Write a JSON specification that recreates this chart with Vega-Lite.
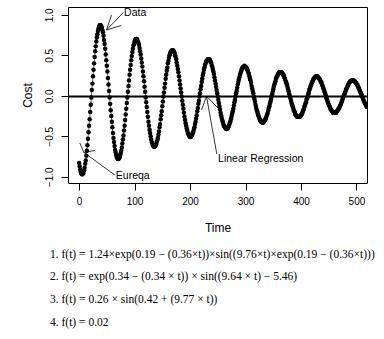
{
"$schema":"https://vega.github.io/schema/vega-lite/v6.json",
"width":299,"height":176,
"autosize":{"type":"none"},
"padding":{"left":68,"top":7,"right":17,"bottom":156},
"background":"white",
"config":{"view":{"stroke":"black","strokeWidth":1},"font":"Liberation Sans"},
"title":{"text":["1.  f(t) = 1.24×exp(0.19 − (0.36×t))×sin((9.76×t)×exp(0.19 − (0.36×t)))","2.  f(t) = exp(0.34 − (0.34 × t)) × sin((9.64 × t) − 5.46)","3.  f(t) = 0.26 × sin(0.42 + (9.77 × t))","4.  f(t) = 0.02"],"orient":"bottom","anchor":"start","frame":"group","font":"Liberation Serif","fontSize":11.5,"fontWeight":"normal","color":"black","lineHeight":22.8,"dx":-18,"offset":15.5,"baseline":"top"},
"datasets":{
"d":[
{"t":0,"c":-0.83},{"t":1,"c":-0.87},{"t":2,"c":-0.91},{"t":3,"c":-0.94},{"t":4,"c":-0.96},{"t":5,"c":-0.97},
{"t":6,"c":-0.97},{"t":7,"c":-0.96},{"t":8,"c":-0.95},{"t":9,"c":-0.92},{"t":10,"c":-0.89},{"t":11,"c":-0.84},{"t":12,"c":-0.80},{"t":13,"c":-0.74},{"t":14,"c":-0.68},{"t":15,"c":-0.61},{"t":16,"c":-0.53},{"t":17,"c":-0.45},{"t":18,"c":-0.37},{"t":19,"c":-0.29},{"t":20,"c":-0.20},{"t":21,"c":-0.11},{"t":22,"c":-0.02},{"t":23,"c":0.07},{"t":24,"c":0.15},{"t":25,"c":0.24},{"t":26,"c":0.32},{"t":27,"c":0.40},{"t":28,"c":0.48},{"t":29,"c":0.55},{"t":30,"c":0.61},{"t":31,"c":0.67},{"t":32,"c":0.72},{"t":33,"c":0.76},{"t":34,"c":0.80},{"t":35,"c":0.83},{"t":36,"c":0.85},{"t":37,"c":0.87},{"t":38,"c":0.87},{"t":39,"c":0.87},{"t":40,"c":0.86},{"t":41,"c":0.84},{"t":42,"c":0.81},{"t":43,"c":0.78},{"t":44,"c":0.74},{"t":45,"c":0.69},{"t":46,"c":0.64},{"t":47,"c":0.58},{"t":48,"c":0.51},{"t":49,"c":0.44},{"t":50,"c":0.37},{"t":51,"c":0.30},{"t":52,"c":0.22},{"t":53,"c":0.14},{"t":54,"c":0.06},{"t":55,"c":-0.02},{"t":56,"c":-0.10},{"t":57,"c":-0.18},{"t":58,"c":-0.25},{"t":59,"c":-0.32},{"t":60,"c":-0.39},{"t":61,"c":-0.46},{"t":62,"c":-0.52},{"t":63,"c":-0.57},{"t":64,"c":-0.62},{"t":65,"c":-0.67},{"t":66,"c":-0.70},{"t":67,"c":-0.73},{"t":68,"c":-0.76},{"t":69,"c":-0.77},{"t":70,"c":-0.78},
{"t":71,"c":-0.78},{"t":72,"c":-0.77},{"t":73,"c":-0.76},{"t":74,"c":-0.74},{"t":75,"c":-0.71},{"t":76,"c":-0.68},{"t":77,"c":-0.64},{"t":78,"c":-0.59},{"t":79,"c":-0.54},{"t":80,"c":-0.49},{"t":81,"c":-0.43},{"t":82,"c":-0.37},{"t":83,"c":-0.30},{"t":84,"c":-0.23},{"t":85,"c":-0.16},{"t":86,"c":-0.09},{"t":87,"c":-0.02},{"t":88,"c":0.05},{"t":89,"c":0.12},{"t":90,"c":0.19},{"t":91,"c":0.26},{"t":92,"c":0.32},{"t":93,"c":0.38},{"t":94,"c":0.44},{"t":95,"c":0.49},{"t":96,"c":0.54},{"t":97,"c":0.58},{"t":98,"c":0.62},{"t":99,"c":0.64},{"t":100,"c":0.67},{"t":101,"c":0.69},{"t":102,"c":0.70},{"t":103,"c":0.70},{"t":104,"c":0.70},{"t":105,"c":0.69},{"t":106,"c":0.67},{"t":107,"c":0.65},{"t":108,"c":0.63},{"t":109,"c":0.59},{"t":110,"c":0.55},{"t":111,"c":0.51},{"t":112,"c":0.46},{"t":113,"c":0.41},{"t":114,"c":0.36},{"t":115,"c":0.30},{"t":116,"c":0.24},{"t":117,"c":0.18},{"t":118,"c":0.11},{"t":119,"c":0.05},{"t":120,"c":-0.02},{"t":121,"c":-0.08},{"t":122,"c":-0.14},{"t":123,"c":-0.20},{"t":124,"c":-0.26},{"t":125,"c":-0.32},{"t":126,"c":-0.37},{"t":127,"c":-0.42},{"t":128,"c":-0.46},{"t":129,"c":-0.50},{"t":130,"c":-0.54},{"t":131,"c":-0.57},{"t":132,"c":-0.59},{"t":133,"c":-0.61},{"t":134,"c":-0.62},{"t":135,"c":-0.63},
{"t":136,"c":-0.63},{"t":137,"c":-0.62},{"t":138,"c":-0.61},{"t":139,"c":-0.60},{"t":140,"c":-0.57},{"t":141,"c":-0.55},{"t":142,"c":-0.52},{"t":143,"c":-0.48},{"t":144,"c":-0.44},{"t":145,"c":-0.39},{"t":146,"c":-0.35},{"t":147,"c":-0.29},{"t":148,"c":-0.24},{"t":149,"c":-0.19},{"t":150,"c":-0.13},{"t":151,"c":-0.07},{"t":152,"c":-0.01},{"t":153,"c":0.04},{"t":154,"c":0.10},{"t":155,"c":0.15},{"t":156,"c":0.21},{"t":157,"c":0.26},{"t":158,"c":0.31},{"t":159,"c":0.35},{"t":160,"c":0.40},{"t":161,"c":0.43},{"t":162,"c":0.47},{"t":163,"c":0.50},{"t":164,"c":0.52},{"t":165,"c":0.54},{"t":166,"c":0.55},{"t":167,"c":0.56},{"t":168,"c":0.56},{"t":169,"c":0.56},{"t":170,"c":0.56},{"t":171,"c":0.54},{"t":172,"c":0.53},{"t":173,"c":0.50},{"t":174,"c":0.48},{"t":175,"c":0.45},{"t":176,"c":0.41},{"t":177,"c":0.37},{"t":178,"c":0.33},{"t":179,"c":0.29},{"t":180,"c":0.24},{"t":181,"c":0.19},{"t":182,"c":0.14},{"t":183,"c":0.09},{"t":184,"c":0.04},{"t":185,"c":-0.01},{"t":186,"c":-0.06},{"t":187,"c":-0.11},{"t":188,"c":-0.16},{"t":189,"c":-0.21},{"t":190,"c":-0.26},{"t":191,"c":-0.30},{"t":192,"c":-0.34},{"t":193,"c":-0.37},{"t":194,"c":-0.40},{"t":195,"c":-0.43},{"t":196,"c":-0.46},{"t":197,"c":-0.47},{"t":198,"c":-0.49},{"t":199,"c":-0.50},{"t":200,"c":-0.51},
{"t":201,"c":-0.51},{"t":202,"c":-0.50},{"t":203,"c":-0.49},{"t":204,"c":-0.48},{"t":205,"c":-0.46},{"t":206,"c":-0.44},{"t":207,"c":-0.41},{"t":208,"c":-0.39},{"t":209,"c":-0.35},{"t":210,"c":-0.32},{"t":211,"c":-0.28},{"t":212,"c":-0.24},{"t":213,"c":-0.19},{"t":214,"c":-0.15},{"t":215,"c":-0.10},{"t":216,"c":-0.06},{"t":217,"c":-0.01},{"t":218,"c":0.03},{"t":219,"c":0.08},{"t":220,"c":0.12},{"t":221,"c":0.17},{"t":222,"c":0.21},{"t":223,"c":0.25},{"t":224,"c":0.28},{"t":225,"c":0.32},{"t":226,"c":0.35},{"t":227,"c":0.38},{"t":228,"c":0.40},{"t":229,"c":0.42},{"t":230,"c":0.43},{"t":231,"c":0.44},{"t":232,"c":0.45},{"t":233,"c":0.45},{"t":234,"c":0.45},{"t":235,"c":0.45},{"t":236,"c":0.44},{"t":237,"c":0.42},{"t":238,"c":0.41},{"t":239,"c":0.38},{"t":240,"c":0.36},{"t":241,"c":0.33},{"t":242,"c":0.30},{"t":243,"c":0.27},{"t":244,"c":0.23},{"t":245,"c":0.19},{"t":246,"c":0.15},{"t":247,"c":0.11},{"t":248,"c":0.07},{"t":249,"c":0.03},{"t":250,"c":-0.01},{"t":251,"c":-0.05},{"t":252,"c":-0.09},{"t":253,"c":-0.13},{"t":254,"c":-0.17},{"t":255,"c":-0.21},{"t":256,"c":-0.24},{"t":257,"c":-0.27},{"t":258,"c":-0.30},{"t":259,"c":-0.32},{"t":260,"c":-0.35},{"t":261,"c":-0.37},{"t":262,"c":-0.38},{"t":263,"c":-0.39},{"t":264,"c":-0.40},{"t":265,"c":-0.41},
{"t":266,"c":-0.41},{"t":267,"c":-0.40},{"t":268,"c":-0.40},{"t":269,"c":-0.39},{"t":270,"c":-0.37},{"t":271,"c":-0.35},{"t":272,"c":-0.33},{"t":273,"c":-0.31},{"t":274,"c":-0.28},{"t":275,"c":-0.25},{"t":276,"c":-0.22},{"t":277,"c":-0.19},{"t":278,"c":-0.16},{"t":279,"c":-0.12},{"t":280,"c":-0.08},{"t":281,"c":-0.05},{"t":282,"c":-0.01},{"t":283,"c":0.03},{"t":284,"c":0.06},{"t":285,"c":0.10},{"t":286,"c":0.14},{"t":287,"c":0.17},{"t":288,"c":0.20},{"t":289,"c":0.23},{"t":290,"c":0.26},{"t":291,"c":0.28},{"t":292,"c":0.30},{"t":293,"c":0.32},{"t":294,"c":0.34},{"t":295,"c":0.35},{"t":296,"c":0.36},{"t":297,"c":0.36},{"t":298,"c":0.37},{"t":299,"c":0.36},{"t":300,"c":0.36},{"t":301,"c":0.35},{"t":302,"c":0.34},{"t":303,"c":0.33},{"t":304,"c":0.31},{"t":305,"c":0.29},{"t":306,"c":0.27},{"t":307,"c":0.24},{"t":308,"c":0.21},{"t":309,"c":0.19},{"t":310,"c":0.16},{"t":311,"c":0.12},{"t":312,"c":0.09},{"t":313,"c":0.06},{"t":314,"c":0.03},{"t":315,"c":-0.01},{"t":316,"c":-0.04},{"t":317,"c":-0.07},{"t":318,"c":-0.11},{"t":319,"c":-0.14},{"t":320,"c":-0.17},{"t":321,"c":-0.19},{"t":322,"c":-0.22},{"t":323,"c":-0.24},{"t":324,"c":-0.26},{"t":325,"c":-0.28},{"t":326,"c":-0.30},{"t":327,"c":-0.31},{"t":328,"c":-0.32},{"t":329,"c":-0.32},{"t":330,"c":-0.33},
{"t":331,"c":-0.33},{"t":332,"c":-0.33},{"t":333,"c":-0.32},{"t":334,"c":-0.31},{"t":335,"c":-0.30},{"t":336,"c":-0.29},{"t":337,"c":-0.27},{"t":338,"c":-0.25},{"t":339,"c":-0.23},{"t":340,"c":-0.21},{"t":341,"c":-0.18},{"t":342,"c":-0.15},{"t":343,"c":-0.13},{"t":344,"c":-0.10},{"t":345,"c":-0.07},{"t":346,"c":-0.04},{"t":347,"c":-0.01},{"t":348,"c":0.02},{"t":349,"c":0.05},{"t":350,"c":0.08},{"t":351,"c":0.11},{"t":352,"c":0.14},{"t":353,"c":0.16},{"t":354,"c":0.18},{"t":355,"c":0.21},{"t":356,"c":0.23},{"t":357,"c":0.24},{"t":358,"c":0.26},{"t":359,"c":0.27},{"t":360,"c":0.28},{"t":361,"c":0.29},{"t":362,"c":0.29},{"t":363,"c":0.29},{"t":364,"c":0.29},{"t":365,"c":0.29},{"t":366,"c":0.28},{"t":367,"c":0.27},{"t":368,"c":0.26},{"t":369,"c":0.25},{"t":370,"c":0.23},{"t":371,"c":0.21},{"t":372,"c":0.19},{"t":373,"c":0.17},{"t":374,"c":0.15},{"t":375,"c":0.13},{"t":376,"c":0.10},{"t":377,"c":0.07},{"t":378,"c":0.05},{"t":379,"c":0.02},{"t":380,"c":-0.01},{"t":381,"c":-0.03},{"t":382,"c":-0.06},{"t":383,"c":-0.09},{"t":384,"c":-0.11},{"t":385,"c":-0.13},{"t":386,"c":-0.15},{"t":387,"c":-0.18},{"t":388,"c":-0.19},{"t":389,"c":-0.21},{"t":390,"c":-0.23},{"t":391,"c":-0.24},{"t":392,"c":-0.25},{"t":393,"c":-0.26},{"t":394,"c":-0.26},{"t":395,"c":-0.26},
{"t":396,"c":-0.26},{"t":397,"c":-0.26},{"t":398,"c":-0.26},{"t":399,"c":-0.25},{"t":400,"c":-0.24},{"t":401,"c":-0.23},{"t":402,"c":-0.22},{"t":403,"c":-0.20},{"t":404,"c":-0.18},{"t":405,"c":-0.17},{"t":406,"c":-0.14},{"t":407,"c":-0.12},{"t":408,"c":-0.10},{"t":409,"c":-0.08},{"t":410,"c":-0.05},{"t":411,"c":-0.03},{"t":412,"c":-0.01},{"t":413,"c":0.02},{"t":414,"c":0.04},{"t":415,"c":0.07},{"t":416,"c":0.09},{"t":417,"c":0.11},{"t":418,"c":0.13},{"t":419,"c":0.15},{"t":420,"c":0.17},{"t":421,"c":0.18},{"t":422,"c":0.20},{"t":423,"c":0.21},{"t":424,"c":0.22},{"t":425,"c":0.23},{"t":426,"c":0.23},{"t":427,"c":0.24},{"t":428,"c":0.24},{"t":429,"c":0.24},{"t":430,"c":0.23},{"t":431,"c":0.23},{"t":432,"c":0.22},{"t":433,"c":0.21},{"t":434,"c":0.20},{"t":435,"c":0.19},{"t":436,"c":0.17},{"t":437,"c":0.16},{"t":438,"c":0.14},{"t":439,"c":0.12},{"t":440,"c":0.10},{"t":441,"c":0.08},{"t":442,"c":0.06},{"t":443,"c":0.04},{"t":444,"c":0.02},{"t":445,"c":-0.01},{"t":446,"c":-0.03},{"t":447,"c":-0.05},{"t":448,"c":-0.07},{"t":449,"c":-0.09},{"t":450,"c":-0.11},{"t":451,"c":-0.12},{"t":452,"c":-0.14},{"t":453,"c":-0.16},{"t":454,"c":-0.17},{"t":455,"c":-0.18},{"t":456,"c":-0.19},{"t":457,"c":-0.20},{"t":458,"c":-0.21},{"t":459,"c":-0.21},{"t":460,"c":-0.21},
{"t":461,"c":-0.21},{"t":462,"c":-0.21},{"t":463,"c":-0.21},{"t":464,"c":-0.20},{"t":465,"c":-0.19},{"t":466,"c":-0.18},{"t":467,"c":-0.17},{"t":468,"c":-0.16},{"t":469,"c":-0.15},{"t":470,"c":-0.13},{"t":471,"c":-0.12},{"t":472,"c":-0.10},{"t":473,"c":-0.08},{"t":474,"c":-0.06},{"t":475,"c":-0.04},{"t":476,"c":-0.02},{"t":477,"c":0.00},{"t":478,"c":0.01},{"t":479,"c":0.03},{"t":480,"c":0.05},{"t":481,"c":0.07},{"t":482,"c":0.09},{"t":483,"c":0.10},{"t":484,"c":0.12},{"t":485,"c":0.13},{"t":486,"c":0.15},{"t":487,"c":0.16},{"t":488,"c":0.17},{"t":489,"c":0.18},{"t":490,"c":0.18},{"t":491,"c":0.19},{"t":492,"c":0.19},{"t":493,"c":0.19},{"t":494,"c":0.19},{"t":495,"c":0.19},{"t":496,"c":0.18},{"t":497,"c":0.18},{"t":498,"c":0.17},{"t":499,"c":0.16},{"t":500,"c":0.15},{"t":501,"c":0.14},{"t":502,"c":0.13},{"t":503,"c":0.11},{"t":504,"c":0.10},{"t":505,"c":0.08},{"t":506,"c":0.06},{"t":507,"c":0.05},{"t":508,"c":0.03},{"t":509,"c":0.01},{"t":510,"c":0.00},{"t":511,"c":-0.02},{"t":512,"c":-0.04},{"t":513,"c":-0.06},{"t":514,"c":-0.07},{"t":515,"c":-0.09},{"t":516,"c":-0.10},{"t":517,"c":-0.11},{"t":518,"c":-0.13},{"t":519,"c":-0.14}
],
"arrows":[
{"t":79.7,"c":1.028,"t2":49.4,"c2":0.812},
{"t":49.4,"c":0.812,"t2":58.4,"c2":0.998},
{"t":49.4,"c":0.812,"t2":76.1,"c2":0.868},
{"t":64.4,"c":-0.978,"t2":8.5,"c2":-0.70},
{"t":8.5,"c":-0.70,"t2":1.3,"c2":-0.583},
{"t":8.5,"c":-0.70,"t2":28.3,"c2":-0.675},
{"t":248.2,"c":-0.718,"t2":229.7,"c2":-0.006},
{"t":229.7,"c":-0.006,"t2":220.7,"c2":-0.175},
{"t":229.7,"c":-0.006,"t2":250.6,"c2":-0.154}
],
"labels":[
{"t":81.1,"c":1.028,"label":"Data"},
{"t":66.2,"c":-0.995,"label":"Eureqa"},
{"t":250.6,"c":-0.78,"label":"Linear Regression"}
]
},
"layer":[
{"data":{"name":"d"},"mark":{"type":"line","color":"#333333","strokeWidth":0.8,"clip":true},
"encoding":{
"x":{"field":"t","type":"quantitative","scale":{"domain":[-20,519],"nice":false,"zero":false},
"axis":{"title":"Time","values":[0,100,200,300,400,500],"grid":false,"domain":false,"tickSize":7,"tickColor":"black","labelFont":"Liberation Sans","labelFontSize":10,"labelColor":"black","labelPadding":6,"labelFlush":false,"titleFont":"Liberation Sans","titleFontSize":12,"titleFontWeight":"normal","titleColor":"black","titlePadding":16}},
"y":{"field":"c","type":"quantitative","scale":{"domain":[-1.077,1.096],"nice":false,"zero":false},
"axis":{"title":"Cost","values":[-1,-0.5,0,0.5,1],"format":".1f","grid":false,"domain":false,"tickSize":7,"tickColor":"black","labelAngle":-90,"labelAlign":"center","labelBaseline":"bottom","labelFont":"Liberation Sans","labelFontSize":10,"labelColor":"black","labelPadding":7,"labelFlush":false,"titleFont":"Liberation Sans","titleFontSize":12,"titleFontWeight":"normal","titleColor":"black","titlePadding":10}}}},
{"data":{"name":"d"},"mark":{"type":"circle","size":20,"color":"black","opacity":1,"clip":true},
"encoding":{"x":{"field":"t","type":"quantitative"},"y":{"field":"c","type":"quantitative"}}},
{"data":{"values":[{}]},"mark":{"type":"rule","strokeWidth":2,"color":"black"},"encoding":{"y":{"datum":-0.01}}},
{"data":{"name":"arrows"},"mark":{"type":"rule","strokeWidth":0.8,"color":"black"},
"encoding":{"x":{"field":"t","type":"quantitative"},"y":{"field":"c","type":"quantitative"},"x2":{"field":"t2"},"y2":{"field":"c2"}}},
{"data":{"name":"labels"},"mark":{"type":"text","align":"left","baseline":"middle","fontSize":10.5,"font":"Liberation Sans","color":"black"},
"encoding":{"x":{"field":"t","type":"quantitative"},"y":{"field":"c","type":"quantitative"},"text":{"field":"label"}}}
]
}
